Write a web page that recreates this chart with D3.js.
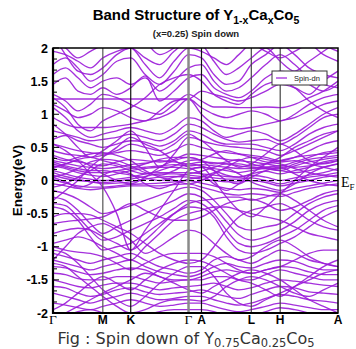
<!DOCTYPE html>
<html>
<head>
<meta charset="utf-8">
<script src="https://cdn.jsdelivr.net/npm/d3@7/dist/d3.min.js"></script>
<style>
  html, body { margin: 0; padding: 0; background: #fff; }
  svg { display: block; }
</style>
</head>
<body>
<svg id="chart" width="356" height="349"></svg>
<script>
// k-path: high-symmetry labels and their cumulative path positions
const symLabels = ["Γ", "M", "K", "Γ", "A", "L", "H", "A"];
const symPos    = [0, 50, 78, 136, 149, 199, 228, 286];

// k positions at which each band energy is sampled
const kPoints = [0, 12.5, 25, 37.5, 50, 64, 78, 92.5, 107, 121.5, 136,
                 149, 161.5, 174, 186.5, 199, 213.5, 228, 242.5, 257, 271.5, 286];

// energy tick labels (eV)
const yTicks = [2, 1.5, 1, 0.5, 0, -0.5, -1, -1.5, -2];

// spin-down band energies (eV), one row per band, sampled at kPoints
const spinDown = [
  [2.1, 2.0, 1.85, 1.95, 2.05, 2.2, 2.3, 2.1, 1.9, 2.0, 2.15, 2.2, 2.1, 2.0, 2.1, 2.2, 2.15, 2.0, 2.1, 2.2, 2.05, 1.95],
  [1.95, 1.9, 1.8, 1.7, 1.85, 1.95, 2.0, 1.75, 1.55, 1.8, 2.0, 1.95, 1.85, 1.75, 1.9, 2.05, 1.95, 1.85, 1.95, 2.05, 1.9, 1.8],
  [1.75, 1.85, 1.7, 1.5, 1.6, 1.8, 1.85, 1.6, 1.45, 1.65, 1.9, 1.85, 1.6, 1.45, 1.5, 1.75, 1.9, 2.05, 1.9, 1.7, 1.6, 1.55],
  [1.6, 1.7, 1.55, 1.4, 1.5, 1.55, 1.45, 1.55, 1.35, 1.5, 1.7, 1.75, 1.5, 1.35, 1.4, 1.55, 1.75, 1.9, 1.75, 1.55, 1.45, 1.4],
  [1.45, 1.55, 1.35, 1.3, 1.4, 1.3, 1.4, 1.58, 1.2, 1.35, 1.55, 1.6, 1.4, 1.3, 1.25, 1.35, 1.55, 1.65, 1.6, 1.45, 1.35, 1.45],
  [1.23, 1.23, 1.23, 1.23, 1.23, 1.23, 1.23, 1.23, 1.23, 1.23, 1.23, 1.35, 1.3, 1.25, 1.2, 1.25, 1.35, 1.45, 1.4, 1.3, 1.5, 1.65],
  [1.3, 1.2, 1.05, 1.15, 1.3, 1.25, 1.15, 1.05, 1.0, 1.15, 1.3, 1.2, 1.11, 1.11, 1.1, 1.1, 1.11, 1.1, 1.15, 1.25, 1.35, 1.5],
  [1.15, 1.05, 0.95, 1.0, 1.1, 1.05, 0.95, 0.9, 1.05, 1.2, 1.23, 1.1, 1.0, 0.95, 1.0, 1.05, 1.0, 0.9, 1.0, 1.15, 1.25, 1.3],
  [1.25, 1.1, 0.85, 0.75, 0.9, 1.0, 1.1, 1.25, 1.45, 1.55, 1.6, 1.5, 1.3, 1.2, 1.15, 1.3, 1.45, 1.5, 1.4, 1.2, 1.05, 0.95],
  [2.2, 1.9, 1.65, 1.6, 1.7, 1.9, 2.0, 1.85, 1.75, 1.95, 2.1, 2.05, 1.8, 1.6, 1.7, 1.85, 2.0, 1.8, 1.65, 1.8, 1.95, 2.1],

  [0.95, 0.85, 0.8, 0.8, 0.8, 0.82, 0.85, 0.9, 0.95, 1.05, 1.23, 1.0, 0.85, 0.8, 0.78, 0.8, 0.85, 0.9, 0.95, 1.05, 1.15, 1.2],
  [1.1, 0.95, 0.75, 0.65, 0.7, 0.75, 0.8, 0.75, 0.7, 0.8, 0.95, 0.9, 0.75, 0.65, 0.7, 0.75, 0.7, 0.6, 0.7, 0.85, 1.0, 1.1],
  [0.75, 0.7, 0.65, 0.6, 0.62, 0.65, 0.7, 0.65, 0.6, 0.7, 0.85, 0.8, 0.7, 0.62, 0.58, 0.6, 0.62, 0.55, 0.65, 0.8, 0.95, 1.0],
  [0.62, 0.68, 0.6, 0.55, 0.5, 0.55, 0.6, 0.58, 0.52, 0.6, 0.75, 0.7, 0.6, 0.55, 0.55, 0.55, 0.5, 0.45, 0.55, 0.7, 0.8, 0.85],
  [0.55, 0.5, 0.45, 0.42, 0.4, 0.45, 0.55, 0.5, 0.45, 0.55, 0.7, 0.6, 0.55, 0.52, 0.5, 0.48, 0.45, 0.38, 0.45, 0.55, 0.65, 0.75],
  [0.45, 0.4, 0.38, 0.35, 0.38, 0.42, 0.45, 0.42, 0.38, 0.45, 0.55, 0.5, 0.45, 0.42, 0.4, 0.38, 0.35, 0.3, 0.35, 0.45, 0.55, 0.6],

  [0.38, 0.32, 0.28, 0.25, 0.22, 0.28, 0.32, 0.3, 0.28, 0.32, 0.4, 0.38, 0.35, 0.32, 0.3, 0.28, 0.25, 0.22, 0.28, 0.35, 0.42, 0.45],
  [0.3, 0.26, 0.22, 0.2, 0.18, 0.2, 0.24, 0.26, 0.3, 0.28, 0.25, 0.28, 0.27, 0.25, 0.22, 0.2, 0.18, 0.15, 0.22, 0.28, 0.32, 0.35],
  [0.25, 0.2, 0.15, 0.12, 0.12, 0.15, 0.18, 0.2, 0.22, 0.24, 0.22, 0.24, 0.22, 0.2, 0.18, 0.18, 0.2, 0.22, 0.2, 0.22, 0.26, 0.3],
  [0.22, 0.18, 0.12, 0.08, 0.06, 0.1, 0.15, 0.18, 0.2, 0.2, 0.18, 0.2, 0.18, 0.15, 0.12, 0.15, 0.18, 0.15, 0.12, 0.15, 0.2, 0.25],
  [0.18, 0.25, 0.3, 0.22, 0.1, 0.0, -0.05, 0.05, 0.2, 0.3, 0.35, 0.3, 0.15, 0.0, -0.05, 0.05, 0.15, 0.2, 0.1, 0.0, -0.05, -0.08],
  [0.15, 0.1, 0.05, 0.02, 0.0, 0.02, 0.05, 0.1, 0.12, 0.12, 0.12, 0.1, 0.08, 0.06, 0.05, 0.08, 0.05, 0.0, 0.04, 0.08, 0.12, 0.18],
  [0.12, 0.06, 0.02, -0.02, -0.03, -0.01, 0.02, 0.06, 0.1, 0.1, 0.08, 0.06, 0.04, 0.02, 0.02, 0.04, 0.0, -0.05, 0.0, 0.05, 0.08, 0.12],
  [0.08, 0.03, 0.0, -0.02, -0.05, -0.04, -0.02, 0.02, 0.05, 0.06, 0.05, 0.02, 0.0, -0.02, -0.02, 0.0, -0.03, -0.08, -0.04, 0.0, 0.05, 0.08],
  [0.05, -0.02, -0.1, -0.05, 0.08, 0.15, 0.1, -0.05, -0.12, -0.05, 0.02, 0.05, 0.12, 0.18, 0.1, -0.02, -0.1, -0.15, -0.05, 0.1, 0.2, 0.25],
  [0.02, -0.04, -0.08, -0.1, -0.1, -0.08, -0.06, -0.05, -0.04, -0.02, 0.0, -0.04, -0.08, -0.12, -0.14, -0.12, -0.14, -0.18, -0.12, -0.08, -0.04, 0.0],
  [-0.05, -0.08, -0.12, -0.14, -0.12, -0.1, -0.08, -0.08, -0.08, -0.06, -0.05, -0.1, -0.15, -0.2, -0.22, -0.2, -0.22, -0.24, -0.18, -0.12, -0.08, -0.05],
  [0.35, 0.3, 0.35, 0.4, 0.42, 0.38, 0.3, 0.15, 0.05, 0.0, -0.05, 0.0, 0.1, 0.2, 0.3, 0.35, 0.32, 0.28, 0.3, 0.25, 0.2, 0.15],
  [-0.1, -0.05, 0.05, 0.15, 0.25, 0.22, 0.15, 0.1, 0.15, 0.22, 0.3, 0.32, 0.4, 0.45, 0.4, 0.35, 0.28, 0.25, 0.18, 0.12, 0.08, 0.05],
  [0.05, 0.1, 0.18, 0.28, 0.32, 0.3, 0.22, 0.12, 0.08, 0.15, 0.25, 0.22, 0.15, 0.08, 0.05, 0.1, 0.14, 0.1, 0.15, 0.2, 0.28, 0.32],
  [0.2, 0.25, 0.32, 0.35, 0.3, 0.25, 0.2, 0.25, 0.32, 0.35, 0.35, 0.3, 0.25, 0.28, 0.32, 0.25, 0.2, 0.18, 0.25, 0.32, 0.35, 0.38],
  [0.28, 0.22, 0.18, 0.15, 0.15, 0.12, 0.08, 0.04, 0.0, 0.05, 0.1, 0.14, 0.2, 0.25, 0.25, 0.22, 0.25, 0.3, 0.35, 0.38, 0.4, 0.42],

  [0.55, 0.45, 0.3, 0.1, -0.1, -0.5, -1.05, -0.75, -0.45, -0.15, 0.15, 0.2, 0.0, -0.25, -0.45, -0.55, -0.4, -0.2, 0.0, 0.2, 0.35, 0.5],
  [0.85, 0.7, 0.5, 0.35, 0.45, 0.6, 0.75, 0.5, 0.2, 0.4, 0.65, 0.6, 0.45, 0.3, 0.2, 0.25, 0.4, 0.55, 0.45, 0.3, 0.25, 0.3],
  [-0.3, -0.15, 0.0, 0.2, 0.35, 0.5, 0.65, 0.55, 0.45, 0.3, 0.2, 0.1, -0.05, -0.15, -0.05, 0.1, 0.25, 0.35, 0.5, 0.6, 0.7, 0.75],

  [-0.15, -0.2, -0.28, -0.4, -0.5, -0.45, -0.38, -0.3, -0.22, -0.15, -0.1, -0.15, -0.3, -0.5, -0.7, -0.75, -0.7, -0.65, -0.5, -0.35, -0.25, -0.2],
  [-0.25, -0.3, -0.45, -0.65, -0.8, -0.7, -0.6, -0.5, -0.4, -0.3, -0.2, -0.25, -0.4, -0.62, -0.82, -0.9, -0.85, -0.75, -0.62, -0.45, -0.35, -0.3],
  [-0.35, -0.38, -0.55, -0.75, -0.9, -0.85, -0.75, -0.65, -0.55, -0.42, -0.3, -0.35, -0.5, -0.75, -0.95, -1.0, -0.95, -0.85, -0.75, -0.6, -0.45, -0.38],
  [-0.4, -0.45, -0.6, -0.85, -1.05, -1.0, -0.95, -0.8, -0.65, -0.5, -0.4, -0.42, -0.55, -0.85, -1.05, -1.1, -1.05, -0.95, -0.85, -0.7, -0.55, -0.45],
  [-0.65, -0.62, -0.6, -0.58, -0.55, -0.45, -0.35, -0.45, -0.55, -0.6, -0.6, -0.55, -0.45, -0.35, -0.3, -0.28, -0.35, -0.45, -0.4, -0.3, -0.2, -0.15],
  [-0.8, -0.75, -0.72, -0.75, -0.85, -0.95, -1.05, -0.9, -0.7, -0.5, -0.35, -0.3, -0.28, -0.25, -0.25, -0.3, -0.25, -0.2, -0.3, -0.45, -0.6, -0.7],
  [-0.95, -0.9, -0.85, -0.9, -1.0, -1.1, -1.2, -1.0, -0.8, -0.6, -0.5, -0.45, -0.4, -0.4, -0.45, -0.5, -0.55, -0.6, -0.7, -0.8, -0.85, -0.9],
  [-0.55, -0.5, -0.5, -0.52, -0.6, -0.7, -0.8, -0.95, -1.1, -1.2, -1.25, -1.2, -1.0, -0.75, -0.55, -0.45, -0.4, -0.35, -0.45, -0.6, -0.7, -0.75],
  [-1.2, -1.0, -0.8, -0.7, -0.65, -0.75, -0.9, -1.1, -1.0, -0.85, -0.75, -0.8, -0.95, -1.1, -1.2, -1.15, -1.0, -0.9, -1.0, -1.15, -1.25, -1.3],

  [-1.1, -1.15, -1.2, -1.25, -1.2, -1.15, -1.1, -1.2, -1.3, -1.35, -1.4, -1.35, -1.2, -1.15, -1.2, -1.25, -1.15, -1.05, -1.1, -1.2, -1.25, -1.3],
  [-1.2, -1.25, -1.3, -1.35, -1.3, -1.25, -1.2, -1.3, -1.38, -1.42, -1.45, -1.4, -1.3, -1.25, -1.3, -1.32, -1.25, -1.2, -1.22, -1.3, -1.35, -1.35],
  [-1.3, -1.32, -1.38, -1.42, -1.4, -1.35, -1.32, -1.35, -1.45, -1.5, -1.5, -1.45, -1.38, -1.35, -1.38, -1.4, -1.35, -1.3, -1.32, -1.38, -1.42, -1.42],
  [-1.4, -1.42, -1.48, -1.5, -1.5, -1.45, -1.45, -1.5, -1.55, -1.52, -1.5, -1.5, -1.45, -1.45, -1.5, -1.5, -1.42, -1.35, -1.4, -1.45, -1.5, -1.5],
  [-1.5, -1.55, -1.6, -1.62, -1.58, -1.55, -1.55, -1.6, -1.65, -1.62, -1.6, -1.58, -1.55, -1.6, -1.65, -1.62, -1.55, -1.5, -1.52, -1.55, -1.58, -1.6],
  [-1.6, -1.62, -1.7, -1.75, -1.72, -1.65, -1.62, -1.68, -1.72, -1.7, -1.68, -1.65, -1.7, -1.75, -1.78, -1.72, -1.65, -1.6, -1.62, -1.68, -1.7, -1.72],
  [-1.7, -1.75, -1.8, -1.85, -1.8, -1.75, -1.7, -1.75, -1.8, -1.78, -1.75, -1.75, -1.8, -1.85, -1.88, -1.85, -1.78, -1.72, -1.75, -1.8, -1.82, -1.85],
  [-1.85, -1.88, -1.92, -1.95, -1.9, -1.85, -1.8, -1.85, -1.9, -1.88, -1.85, -1.85, -1.9, -1.95, -1.98, -1.95, -1.9, -1.85, -1.88, -1.92, -1.95, -1.95],
  [-1.05, -1.1, -1.25, -1.45, -1.65, -1.8, -1.9, -1.75, -1.55, -1.4, -1.3, -1.3, -1.45, -1.7, -1.85, -1.9, -1.8, -1.7, -1.6, -1.5, -1.4, -1.35],
  [-1.95, -1.85, -1.7, -1.55, -1.45, -1.55, -1.65, -1.5, -1.35, -1.25, -1.2, -1.22, -1.3, -1.4, -1.5, -1.55, -1.65, -1.75, -1.6, -1.45, -1.3, -1.2],
  [-2.1, -2.0, -1.9, -1.8, -1.7, -1.6, -1.5, -1.4, -1.45, -1.55, -1.65, -1.7, -1.6, -1.5, -1.4, -1.35, -1.4, -1.5, -1.65, -1.8, -1.9, -2.0],
  [-1.25, -1.3, -1.45, -1.6, -1.75, -1.9, -2.0, -1.95, -1.85, -1.8, -1.8, -1.82, -1.75, -1.6, -1.5, -1.45, -1.5, -1.6, -1.7, -1.75, -1.65, -1.55],
  [-1.0, -1.05, -1.08, -1.1, -1.15, -1.25, -1.35, -1.25, -1.15, -1.1, -1.1, -1.1, -1.15, -1.25, -1.35, -1.4, -1.35, -1.3, -1.2, -1.1, -1.05, -1.05],
  [-2.1, -2.05, -1.98, -1.95, -2.0, -2.1, -2.15, -2.05, -1.98, -1.95, -1.95, -1.95, -1.98, -2.05, -2.1, -2.05, -1.98, -1.92, -1.95, -2.0, -2.05, -2.1]
];

const bandColor = "#9a1ad8";

const svg = d3.select("#chart");
const plot = { left: 53, right: 338, top: 48, bottom: 313 };

const x = d3.scaleLinear().domain([0, 286]).range([plot.left, plot.right]);
const y = d3.scaleLinear().domain([-2, 2]).range([plot.bottom, plot.top]);

svg.append("defs").append("clipPath").attr("id", "plotClip")
  .append("rect")
  .attr("x", plot.left).attr("y", plot.top)
  .attr("width", plot.right - plot.left).attr("height", plot.bottom - plot.top);

// title with subscripts
const title = svg.append("text")
  .attr("x", 196).attr("y", 20)
  .attr("text-anchor", "middle")
  .attr("font-family", "Liberation Sans, Arial, sans-serif")
  .attr("font-weight", "bold").attr("font-size", 15);
title.append("tspan").text("Band Structure of Y");
title.append("tspan").attr("dy", 4).attr("font-size", 10.5).text("1-x");
title.append("tspan").attr("dy", -4).text("Ca");
title.append("tspan").attr("dy", 4).attr("font-size", 10.5).text("x");
title.append("tspan").attr("dy", -4).text("Co");
title.append("tspan").attr("dy", 4).attr("font-size", 10.5).text("5");

svg.append("text")
  .attr("x", 196).attr("y", 37)
  .attr("text-anchor", "middle")
  .attr("font-family", "Liberation Sans, Arial, sans-serif")
  .attr("font-weight", "bold").attr("font-size", 9.5)
  .attr("fill", "#222")
  .text("(x=0.25) Spin down");

// bands
const line = d3.line()
  .x((d, i) => x(kPoints[i]))
  .y(d => y(d))
  .curve(d3.curveMonotoneX);

svg.append("g").attr("clip-path", "url(#plotClip)")
  .selectAll("path").data(spinDown).join("path")
  .attr("d", line)
  .attr("fill", "none")
  .attr("stroke", bandColor)
  .attr("stroke-width", 1.35)
  .attr("stroke-opacity", 0.9);

// high-symmetry vertical lines
const vStyles = [
  null,
  { c: "#555", w: 1.2 },
  { c: "#111", w: 1.2 },
  { c: "#8a8a8a", w: 2.5 },
  { c: "#111", w: 1.2 },
  { c: "#444", w: 1.2 },
  { c: "#444", w: 1.2 },
  null
];
symPos.forEach((p, i) => {
  if (!vStyles[i]) return;
  svg.append("line")
    .attr("x1", x(p)).attr("x2", x(p))
    .attr("y1", plot.top).attr("y2", plot.bottom)
    .attr("stroke", vStyles[i].c).attr("stroke-width", vStyles[i].w);
});

// Fermi level
svg.append("line")
  .attr("x1", plot.left).attr("x2", plot.right)
  .attr("y1", y(0)).attr("y2", y(0))
  .attr("stroke", "#000").attr("stroke-width", 1.2)
  .attr("stroke-dasharray", "5,3");

// frame
svg.append("rect")
  .attr("x", plot.left).attr("y", plot.top)
  .attr("width", plot.right - plot.left).attr("height", plot.bottom - plot.top)
  .attr("fill", "none").attr("stroke", "#000").attr("stroke-width", 1.5);
svg.append("line").attr("x1", plot.left).attr("x2", plot.left)
  .attr("y1", plot.top).attr("y2", plot.bottom + 1)
  .attr("stroke", "#000").attr("stroke-width", 2.2);
svg.append("line").attr("x1", plot.left - 1).attr("x2", plot.right)
  .attr("y1", plot.bottom).attr("y2", plot.bottom)
  .attr("stroke", "#000").attr("stroke-width", 2.2);

// inward ticks on the energy axis
const minorTicks = d3.range(0, 25).map(i => -2 + i / 6);
svg.append("g").selectAll("line").data(minorTicks).join("line")
  .attr("x1", plot.left).attr("x2", d => plot.left + (Math.abs(d * 2 - Math.round(d * 2)) < 1e-6 ? 6 : 4))
  .attr("y1", d => y(d)).attr("y2", d => y(d))
  .attr("stroke", "#000").attr("stroke-width", 1);

// tick labels
svg.append("g").selectAll("text").data(yTicks).join("text")
  .attr("x", plot.left - 5)
  .attr("y", d => y(d) + 4.5)
  .attr("text-anchor", "end")
  .attr("font-family", "Liberation Sans, Arial, sans-serif")
  .attr("font-weight", "bold").attr("font-size", 12.5)
  .text(d => d);

// axis title
svg.append("text")
  .attr("transform", `translate(22,${y(0)}) rotate(-90)`)
  .attr("text-anchor", "middle")
  .attr("font-family", "Liberation Sans, Arial, sans-serif")
  .attr("font-weight", "bold").attr("font-size", 13.5)
  .text("Energy(eV)");

// high-symmetry point labels
svg.append("g").selectAll("text").data(symLabels).join("text")
  .attr("x", (d, i) => x(symPos[i]))
  .attr("y", 324)
  .attr("text-anchor", "middle")
  .attr("font-family", d => d === "Γ" ? "Liberation Serif, Times New Roman, serif" : "Liberation Sans, Arial, sans-serif")
  .attr("font-weight", d => d === "Γ" ? "normal" : "bold")
  .attr("font-size", d => d === "Γ" ? 13.5 : 12)
  .text(d => d);

// Fermi label
const ef = svg.append("text")
  .attr("x", 341).attr("y", y(0) + 6)
  .attr("font-family", "Liberation Serif, Times New Roman, serif")
  .attr("font-size", 14);
ef.append("tspan").text("E");
ef.append("tspan").attr("dy", 3).attr("font-size", 9).text("F");

// legend
const lg = svg.append("g");
lg.append("rect")
  .attr("x", 272).attr("y", 71).attr("width", 55).attr("height", 14)
  .attr("fill", "#fff").attr("stroke", "#333").attr("stroke-width", 1);
lg.append("line")
  .attr("x1", 276).attr("x2", 287).attr("y1", 78).attr("y2", 78)
  .attr("stroke", bandColor).attr("stroke-width", 1.2);
lg.append("text")
  .attr("x", 294).attr("y", 81)
  .attr("font-family", "Liberation Sans, Arial, sans-serif")
  .attr("font-size", 7.5).attr("fill", "#222")
  .text("Spin-dn");

// caption
const cap = svg.append("text")
  .attr("x", 186).attr("y", 344)
  .attr("text-anchor", "middle")
  .attr("font-family", "DejaVu Sans, sans-serif")
  .attr("font-size", 16).attr("fill", "#333");
cap.append("tspan").text("Fig : Spin down of Y");
cap.append("tspan").attr("dy", 2.5).attr("font-size", 11.5).text("0.75");
cap.append("tspan").attr("dy", -2.5).text("Ca");
cap.append("tspan").attr("dy", 2.5).attr("font-size", 11.5).text("0.25");
cap.append("tspan").attr("dy", -2.5).text("Co");
cap.append("tspan").attr("dy", 2.5).attr("font-size", 11.5).text("5");
</script>
</body>
</html>
